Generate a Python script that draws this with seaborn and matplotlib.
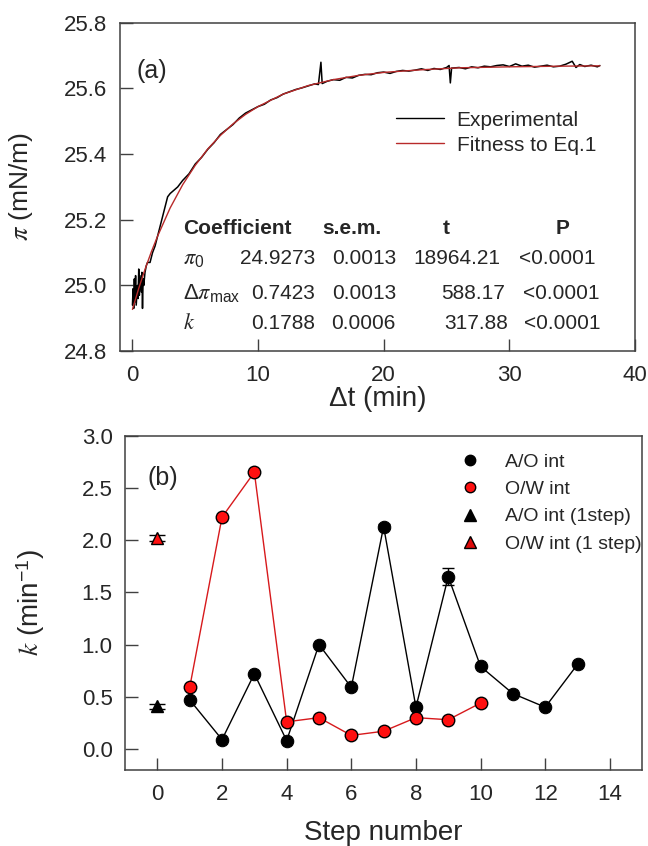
import numpy as np
import pandas as pd
import matplotlib
matplotlib.use("Agg")
import matplotlib.pyplot as plt
from matplotlib.lines import Line2D
import seaborn as sns

# ---- panel (a): surface pressure vs time ----
exp_t = [0.0, 0.05, 0.1, 0.15, 0.2, 0.25, 0.3, 0.4, 0.45, 0.5, 0.55, 0.6, 0.7, 0.75, 0.8,
         0.85, 0.9, 1.0, 1.1, 1.2, 1.4, 1.6, 1.8, 2.0, 2.2, 2.4, 2.6, 2.8, 3.0, 3.3, 3.6,
         4.0, 4.5, 5.0, 5.5, 6.0, 6.5, 7.0, 7.5, 8.0, 8.5, 9.0, 9.5, 10.0, 10.5, 11.0,
         11.5, 12.0, 12.5, 13.0, 13.5, 14.0, 14.5, 14.8, 15.0, 15.1, 15.5, 16.0, 16.5,
         17.0, 17.5, 18.0, 18.5, 19.0, 19.5, 20.0, 20.5, 21.0, 21.5, 22.0, 22.5, 23.0,
         23.5, 24.0, 24.5, 25.0, 25.2, 25.3, 25.4, 26.0, 26.5, 27.0, 27.5, 28.0, 28.5,
         29.0, 29.5, 30.0, 30.5, 31.0, 31.5, 32.0, 32.5, 33.0, 33.5, 34.0, 34.5, 35.0,
         35.3, 35.6, 36.0, 36.5, 37.0, 37.2]
exp_pi = [24.94, 24.99, 24.93, 25.02, 24.95, 25.03, 24.94, 25.00, 24.96, 25.05, 24.97,
          25.03, 24.98, 25.04, 24.93, 25.02, 25.00, 25.04, 25.06, 25.07, 25.07, 25.10,
          25.12, 25.15, 25.18, 25.21, 25.24, 25.27, 25.28, 25.29, 25.30, 25.32, 25.34,
          25.37, 25.39, 25.415, 25.435, 25.46, 25.475, 25.49, 25.51, 25.525, 25.535,
          25.545, 25.552, 25.565, 25.572, 25.583, 25.59, 25.597, 25.602, 25.608, 25.614,
          25.612, 25.68, 25.615, 25.622, 25.627, 25.625, 25.634, 25.632, 25.64, 25.643,
          25.642, 25.648, 25.650, 25.646, 25.652, 25.655, 25.653, 25.656, 25.660, 25.655,
          25.661, 25.658, 25.664, 25.67, 25.617, 25.662, 25.664, 25.66, 25.666, 25.663,
          25.668, 25.666, 25.67, 25.672, 25.667, 25.675, 25.668, 25.671, 25.665, 25.668,
          25.671, 25.666, 25.668, 25.674, 25.683, 25.664, 25.673, 25.667, 25.671, 25.666,
          25.670]

fit_t = [0, 0.5, 1, 1.5, 2, 3, 4, 5, 6, 7, 8, 9, 10, 12, 14, 16, 18, 20, 23, 26, 30, 34, 37.2]
fit_pi = [24.927, 24.991, 25.049, 25.102, 25.150, 25.236, 25.307, 25.366, 25.416, 25.457,
          25.492, 25.521, 25.545, 25.583, 25.609, 25.627, 25.640, 25.649, 25.657, 25.663,
          25.666, 25.668, 25.669]

table_header = ["Coefficient", "s.e.m.", "t", "P"]
coef_names = [r"$\pi_{\mathregular{0}}$", r"Δ$\pi_{\mathregular{max}}$", r"$k$"]
coef_vals = ["24.9273", "0.7423", "0.1788"]
coef_sem = ["0.0013", "0.0013", "0.0006"]
coef_t = ["18964.21", "588.17", "317.88"]
coef_p = ["<0.0001", "<0.0001", "<0.0001"]

# ---- panel (b): rate constant vs step ----
steps_ao = [1, 2, 3, 4, 5, 6, 7, 8, 9, 10, 11, 12, 13]
k_ao = [0.47, 0.09, 0.72, 0.08, 1.00, 0.59, 2.13, 0.40, 1.65, 0.79, 0.53, 0.40, 0.81]
k_ao_err = [0, 0, 0, 0, 0, 0, 0.02, 0, 0.08, 0, 0, 0, 0]
steps_ow = [1, 2, 3, 4, 5, 6, 7, 8, 9, 10]
k_ow = [0.59, 2.22, 2.65, 0.26, 0.30, 0.13, 0.17, 0.30, 0.28, 0.44]
k_ao_1step = 0.41
k_ow_1step = 2.02
k_1step_err = 0.025

sns.set_style("ticks")
plt.rcParams["font.family"] = ["Liberation Sans", "DejaVu Sans"]
plt.rcParams["mathtext.fontset"] = "stix"
plt.rcParams["axes.edgecolor"] = "#404040"
plt.rcParams["axes.linewidth"] = 1.1

fit_red = "#b82a2a"
fill_red = "#ff1010"

fig = plt.figure(figsize=(6.48, 8.46), dpi=100)
ax1 = fig.add_axes([0.185, 0.585, 0.795, 0.388])
ax2 = fig.add_axes([0.193, 0.090, 0.798, 0.395])

df_exp = pd.DataFrame({"t": exp_t, "pi": exp_pi})
df_fit = pd.DataFrame({"t": fit_t, "pi": fit_pi})
sns.lineplot(data=df_exp, x="t", y="pi", ax=ax1, color="black", lw=1.1, sort=False)
sns.lineplot(data=df_fit, x="t", y="pi", ax=ax1, color=fit_red, lw=1.0, sort=False)

ax1.set_xlim(-1, 40)
ax1.set_ylim(24.8, 25.8)
ax1.set_xticks([0, 10, 20, 30, 40])
ax1.set_yticks([24.8, 25.0, 25.2, 25.4, 25.6, 25.8])
ax1.set_yticklabels(["24.8", "25.0", "25.2", "25.4", "25.6", "25.8"])
ax1.tick_params(direction="in", length=9, width=1, labelsize=16, color="#404040")
ax1.tick_params(axis="y", pad=9)
ax1.tick_params(axis="x", pad=10)
ax1.set_xlabel("Δt (min)", fontsize=20, labelpad=0)
ax1.set_ylabel(r"$\pi$ (mN/m)", fontsize=19)
ax1.yaxis.set_label_coords(-0.165, 0.5)
ax1.text(0.033, 0.854, "(a)", transform=ax1.transAxes, fontsize=18, va="center")

h1 = [Line2D([], [], color="black", lw=1.0), Line2D([], [], color=fit_red, lw=1.0)]
ax1.legend(h1, ["Experimental", "Fitness to Eq.1"], loc="upper left",
           bbox_to_anchor=(0.50, 0.79), frameon=False, fontsize=15,
           handlelength=2.3, handletextpad=0.6, labelspacing=0.3)

# coefficient table
def px2ax(x, y):
    return ((x - 120) / 515, 1 - (y - 23) / 328)

hdr_x = [(183, "left"), (352, "center"), (446, "center"), (563, "center")]
for (xp, ha), txt in zip(hdr_x, table_header):
    ax1.text(*px2ax(xp, 229), txt, transform=ax1.transAxes, fontsize=15,
             fontweight="bold", ha=ha, va="center")
row_y = [258, 293, 323]
for i in range(3):
    ax1.text(*px2ax(183, row_y[i]), coef_names[i], transform=ax1.transAxes,
             fontsize=16, ha="left", va="center")
    ax1.text(*px2ax(315, row_y[i]), coef_vals[i], transform=ax1.transAxes,
             fontsize=15, ha="right", va="center")
    ax1.text(*px2ax(396, row_y[i]), coef_sem[i], transform=ax1.transAxes,
             fontsize=15, ha="right", va="center")
    ax1.text(*px2ax([500, 505, 508][i], row_y[i]), coef_t[i], transform=ax1.transAxes,
             fontsize=15, ha="right", va="center")
    ax1.text(*px2ax([595, 599, 600][i], row_y[i]), coef_p[i], transform=ax1.transAxes,
             fontsize=15, ha="right", va="center")

# ---- panel (b) ----
df_ao = pd.DataFrame({"step": steps_ao, "k": k_ao})
df_ow = pd.DataFrame({"step": steps_ow, "k": k_ow})
ax2.errorbar(steps_ao, k_ao, yerr=k_ao_err, fmt="none", ecolor="black", elinewidth=1,
             capsize=4.5, zorder=2)
sns.lineplot(data=df_ao, x="step", y="k", ax=ax2, color="black", lw=1.0, marker="o",
             markersize=9, markerfacecolor="black", markeredgecolor="black", zorder=3)
sns.lineplot(data=df_ow, x="step", y="k", ax=ax2, color="#d7191c", lw=1.0, marker="o",
             markersize=9, markerfacecolor=fill_red, markeredgecolor="black",
             markeredgewidth=1.0, zorder=5)
ax2.errorbar([0], [k_ao_1step], yerr=[k_1step_err], fmt="^", color="black", ms=9,
             mec="black", ecolor="black", capsize=6, elinewidth=1, zorder=6)
ax2.errorbar([0], [k_ow_1step], yerr=[k_1step_err], fmt="^", color=fill_red, ms=9,
             mec="black", ecolor="black", capsize=6, elinewidth=1, zorder=6)

ax2.set_xlim(-1, 15)
ax2.set_ylim(-0.2, 3.0)
ax2.set_xticks([0, 2, 4, 6, 8, 10, 12, 14])
ax2.set_yticks([0.0, 0.5, 1.0, 1.5, 2.0, 2.5, 3.0])
ax2.set_yticklabels(["0.0", "0.5", "1.0", "1.5", "2.0", "2.5", "3.0"])
ax2.tick_params(direction="in", length=9, width=1, labelsize=16, color="#404040")
ax2.tick_params(axis="y", pad=9)
ax2.tick_params(axis="x", pad=10)
ax2.set_xlabel("Step number", fontsize=20, labelpad=11)
ax2.set_ylabel(r"$k$ (min$^{\mathregular{-1}}$)", fontsize=20)
ax2.yaxis.set_label_coords(-0.15, 0.5)
ax2.text(0.043, 0.874, "(b)", transform=ax2.transAxes, fontsize=18, va="center")

h2 = [Line2D([], [], ls="none", marker="o", ms=7.5, mfc="black", mec="black"),
      Line2D([], [], ls="none", marker="o", ms=7.5, mfc=fill_red, mec="black"),
      Line2D([], [], ls="none", marker="^", ms=8, mfc="black", mec="black"),
      Line2D([], [], ls="none", marker="^", ms=8, mfc="#dd0a0a", mec="black")]
ax2.legend(h2, ["A/O int", "O/W int", "A/O int (1step)", "O/W int (1 step)"],
           loc="upper left", bbox_to_anchor=(0.615, 1.0), frameon=False, fontsize=14,
           handlelength=1.0, handletextpad=1.3, labelspacing=0.5)

fig.savefig("out.png", dpi=100)
